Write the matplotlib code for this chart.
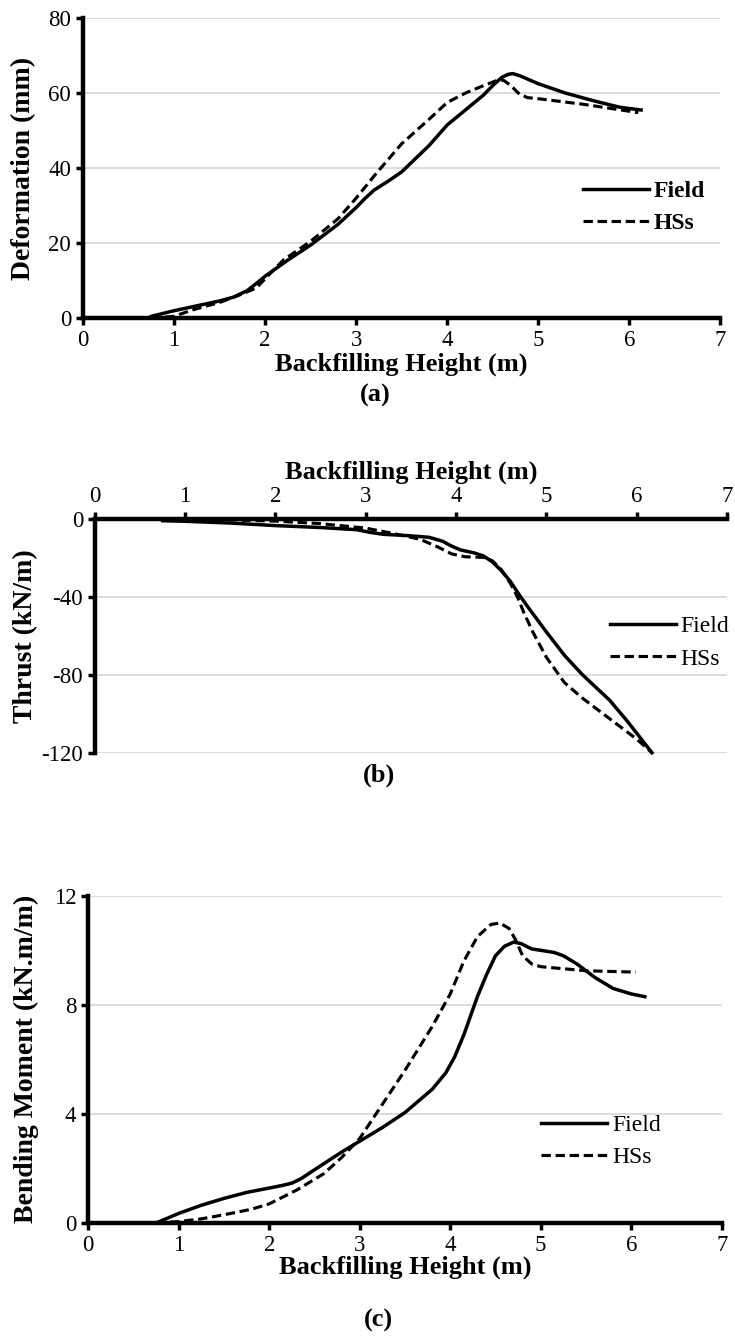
import matplotlib
matplotlib.use("Agg")
import matplotlib.pyplot as plt

plt.rcParams['font.family'] = ['Liberation Serif', 'DejaVu Serif']
plt.rcParams['axes.unicode_minus'] = False

# (a) deformation
def_field_x = [0.75, 1.0, 1.25, 1.5, 1.65, 1.8, 1.9, 2.0, 2.25, 2.5, 2.8, 3.0, 3.1, 3.2, 3.35, 3.5, 3.65, 3.8, 4.0, 4.2, 4.4, 4.5, 4.6, 4.67, 4.72, 4.8, 5.0, 5.3, 5.6, 5.9, 6.13]
def_field_y = [0.5, 2.0, 3.3, 4.6, 5.6, 7.3, 9.2, 11.2, 15.5, 19.5, 25.0, 29.5, 32.0, 34.2, 36.5, 39.0, 42.5, 46.0, 51.5, 55.5, 59.5, 62.0, 64.2, 65.0, 65.2, 64.6, 62.5, 60.0, 58.0, 56.2, 55.5]
def_hss_x = [0.75, 1.0, 1.2, 1.5, 1.7, 1.9, 2.0, 2.2, 2.5, 2.8, 3.0, 3.2, 3.5, 3.8, 4.0, 4.2, 4.4, 4.55, 4.62, 4.7, 4.78, 4.88, 5.0, 5.5, 6.1]
def_hss_y = [0.0, 0.5, 2.2, 4.2, 6.0, 8.0, 10.5, 15.5, 20.5, 26.5, 32.0, 38.0, 46.5, 53.0, 57.5, 60.0, 62.0, 63.4, 63.4, 62.0, 60.0, 58.8, 58.5, 57.0, 54.8]

# (b) thrust
thr_field_x = [0.75, 1.0, 1.5, 2.0, 2.5, 2.9, 3.05, 3.2, 3.45, 3.7, 3.85, 3.95, 4.05, 4.2, 4.3, 4.4, 4.5, 4.6, 4.7, 4.8, 5.0, 5.2, 5.4, 5.55, 5.7, 5.9, 6.17]
thr_field_y = [-1.0, -1.3, -2.2, -3.5, -4.5, -5.6, -7.0, -8.0, -8.6, -9.5, -11.5, -14.0, -16.0, -17.5, -19.0, -22.0, -26.5, -32.0, -39.0, -45.5, -58.0, -70.0, -80.0, -86.5, -93.0, -104.0, -120.0]
thr_hss_x = [1.0, 1.5, 2.0, 2.5, 3.0, 3.3, 3.6, 3.8, 3.95, 4.1, 4.3, 4.4, 4.5, 4.6, 4.68, 4.75, 4.85, 5.0, 5.2, 5.4, 5.6, 5.8, 6.0, 6.17]
thr_hss_y = [-0.3, -0.6, -1.2, -2.5, -4.8, -7.5, -10.5, -14.5, -18.0, -19.5, -19.8, -21.5, -26.0, -33.0, -40.0, -48.0, -58.0, -71.0, -84.0, -92.0, -99.0, -106.0, -113.0, -120.0]

# (c) bending moment
bm_field_x = [0.75, 1.0, 1.25, 1.5, 1.75, 2.0, 2.15, 2.25, 2.35, 2.5, 2.8, 3.0, 3.25, 3.5, 3.8, 3.95, 4.05, 4.15, 4.3, 4.4, 4.5, 4.6, 4.7, 4.78, 4.9, 5.0, 5.15, 5.25, 5.4, 5.6, 5.8, 6.0, 6.15]
bm_field_y = [0.0, 0.35, 0.65, 0.9, 1.12, 1.28, 1.38, 1.46, 1.62, 1.95, 2.6, 3.0, 3.5, 4.05, 4.9, 5.5, 6.1, 6.9, 8.3, 9.1, 9.8, 10.15, 10.3, 10.25, 10.05, 10.0, 9.92, 9.8, 9.5, 9.0, 8.6, 8.4, 8.3]
bm_hss_x = [0.75, 1.0, 1.25, 1.5, 1.8, 2.0, 2.3, 2.6, 2.8, 3.0, 3.2, 3.5, 3.8, 4.0, 4.15, 4.3, 4.45, 4.55, 4.65, 4.72, 4.8, 4.9, 5.0, 5.5, 6.05]
bm_hss_y = [0.0, 0.05, 0.15, 0.3, 0.5, 0.7, 1.2, 1.8, 2.4, 3.1, 4.1, 5.6, 7.2, 8.4, 9.6, 10.5, 10.95, 11.0, 10.8, 10.4, 9.8, 9.5, 9.4, 9.25, 9.2]

x_ticks = [0, 1, 2, 3, 4, 5, 6, 7]

fig = plt.figure(figsize=(7.35, 13.37), dpi=100)

tick_fs = 16.5
xlab_fs = 19
ylab_fs = 20
leg_fs = 17
lw = 2.5
dash = (3.0, 1.5)


def style(ax):
    ax.set_xlim(0, 7)
    ax.set_xticks(x_ticks)
    ax.grid(axis='y', color='#d9d9d9', lw=1.3)
    ax.set_axisbelow(True)
    for s in ax.spines.values():
        s.set_linewidth(3.2)
    ax.tick_params(labelsize=tick_fs, width=2.5, length=5, direction='out')


def draw(ax, fx, fy, hx, hy):
    ax.plot(fx, fy, color='black', lw=lw, solid_joinstyle='round', label='Field', clip_on=False)
    ax.plot(hx, hy, color='black', lw=lw * 0.9, ls='--', dashes=dash, label='HSs', clip_on=False)


def legend(ax, anchor, bold):
    prop = {'size': leg_fs, 'weight': 'bold' if bold else 'normal'}
    ax.legend(loc='center left', bbox_to_anchor=anchor, frameon=False, handlelength=2.8,
              handletextpad=0.2, labelspacing=0.45, borderaxespad=0, prop=prop)


# (a)
ax1 = fig.add_axes([0.113, 0.762, 0.867, 0.2245])
style(ax1)
ax1.set_ylim(0, 80)
ax1.set_yticks([0, 20, 40, 60, 80])
ax1.spines['top'].set_visible(False)
ax1.spines['right'].set_visible(False)
draw(ax1, def_field_x, def_field_y, def_hss_x, def_hss_y)
ax1.set_xlabel('Backfilling Height (m)', fontsize=xlab_fs, fontweight='bold', labelpad=1)
ax1.set_ylabel('Deformation (mm)', fontsize=ylab_fs, fontweight='bold')
ax1.yaxis.set_label_coords(-0.074, 0.5)
legend(ax1, (0.77, 0.37), True)
fig.text(0.51, 1 - 395 / 1337, '(a)', fontsize=xlab_fs, fontweight='bold', ha='center', va='center')

# (b)
ax2 = fig.add_axes([0.129, 0.437, 0.86, 0.175])
style(ax2)
ax2.set_ylim(-120, 0)
ax2.set_yticks([-120, -80, -40, 0])
ax2.xaxis.tick_top()
ax2.xaxis.set_label_position('top')
ax2.spines['bottom'].set_visible(False)
ax2.spines['right'].set_visible(False)
draw(ax2, thr_field_x, thr_field_y, thr_hss_x, thr_hss_y)
ax2.set_xlabel('Backfilling Height (m)', fontsize=xlab_fs, fontweight='bold', labelpad=5)
ax2.set_ylabel('Thrust (kN/m)', fontsize=ylab_fs, fontweight='bold')
ax2.yaxis.set_label_coords(-0.09, 0.5)
legend(ax2, (0.80, 0.47), False)
fig.text(0.515, 1 - 775 / 1337, '(b)', fontsize=xlab_fs, fontweight='bold', ha='center', va='center')

# (c)
ax3 = fig.add_axes([0.12, 0.0853, 0.862, 0.2447])
style(ax3)
ax3.set_ylim(0, 12)
ax3.set_yticks([0, 4, 8, 12])
ax3.spines['top'].set_visible(False)
ax3.spines['right'].set_visible(False)
draw(ax3, bm_field_x, bm_field_y, bm_hss_x, bm_hss_y)
ax3.set_xlabel('Backfilling Height (m)', fontsize=xlab_fs, fontweight='bold', labelpad=0)
ax3.set_ylabel('Bending Moment (kN.m/m)', fontsize=ylab_fs, fontweight='bold')
ax3.yaxis.set_label_coords(-0.078, 0.5)
legend(ax3, (0.70, 0.25), False)
fig.text(0.515, 1 - 1320 / 1337, '(c)', fontsize=xlab_fs, fontweight='bold', ha='center', va='center')

fig.savefig('out.png', dpi=100)
